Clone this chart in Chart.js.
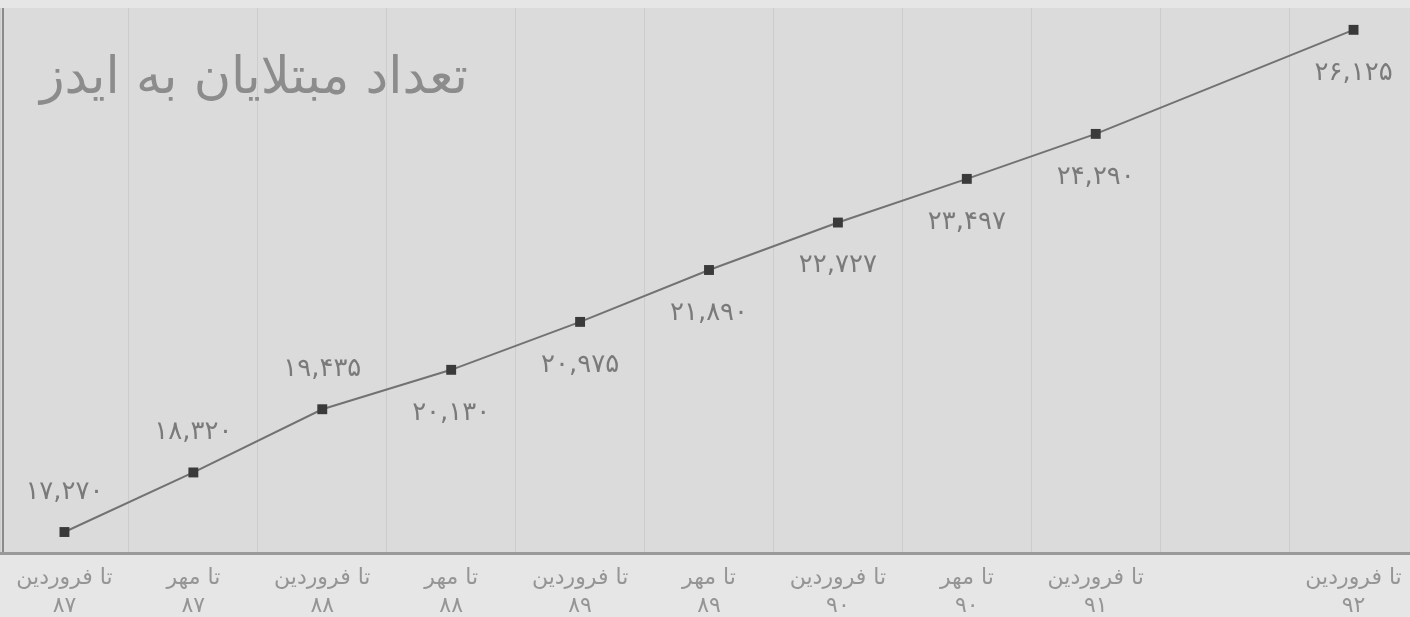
<!DOCTYPE html>
<html lang="fa">
<head>
  <meta charset="UTF-8" />
  <title>تعداد مبتلایان به ایدز</title>
  <script src="https://cdn.jsdelivr.net/npm/chart.js"></script>
  <style>
    body { margin: 0; background: #e6e6e6; overflow: hidden; }
    canvas { display: block; }
  </style>
</head>
<body>
  <canvas id="aidsChart" width="1418" height="617"></canvas>

  <script>
    // chart data
    const chartTitle = 'تعداد مبتلایان به ایدز';
    const periods = ['تا فروردین', 'تا مهر', 'تا فروردین', 'تا مهر', 'تا فروردین', 'تا مهر', 'تا فروردین', 'تا مهر', 'تا فروردین', '', 'تا فروردین'];
    const years = ['۸۷', '۸۷', '۸۸', '۸۸', '۸۹', '۸۹', '۹۰', '۹۰', '۹۱', '', '۹۲'];
    const patients = [17270, 18320, 19435, 20130, 20975, 21890, 22727, 23497, 24290, null, 26125];

    const labels = periods.map((p, i) => p ? [p, years[i]] : '');

    const faDigits = '۰۱۲۳۴۵۶۷۸۹';
    function toFa(n) {
      return n.toLocaleString('en-US').replace(/\d/g, d => faDigits[d]);
    }

    const fontFamily = '"DejaVu Sans", "Noto Sans", sans-serif';

    // backgrounds + title
    const backdrop = {
      id: 'backdrop',
      beforeDraw(chart) {
        const { ctx, chartArea: a } = chart;
        ctx.save();
        ctx.fillStyle = '#e6e6e6';
        ctx.fillRect(0, 0, chart.width, chart.height);
        ctx.fillStyle = '#dbdbdb';
        ctx.fillRect(a.left, a.top, a.right - a.left, a.bottom - a.top);
        // left frame line
        const lx = Math.max(a.left, 2) + 1;
        ctx.strokeStyle = '#8a8a8a';
        ctx.lineWidth = 2;
        ctx.beginPath();
        ctx.moveTo(lx, a.top);
        ctx.lineTo(lx, a.bottom);
        ctx.stroke();
        ctx.restore();
      },
      afterDraw(chart) {
        const { ctx, chartArea: a } = chart;
        ctx.save();
        ctx.font = '51px ' + fontFamily;
        ctx.fillStyle = '#8c8c8c';
        ctx.direction = 'rtl';
        ctx.textAlign = 'right';
        ctx.textBaseline = 'alphabetic';
        ctx.fillText(chartTitle, 468, a.top + 85);
        ctx.restore();
      }
    };

    // value labels next to each point
    const valueLabels = {
      id: 'valueLabels',
      afterDatasetsDraw(chart) {
        const { ctx } = chart;
        const meta = chart.getDatasetMeta(0);
        ctx.save();
        ctx.font = '26px ' + fontFamily;
        ctx.fillStyle = '#7a7a7a';
        ctx.textAlign = 'center';
        ctx.textBaseline = 'middle';
        meta.data.forEach((pt, i) => {
          const v = patients[i];
          if (v == null) return;
          const dy = i < 3 ? -40 : 43;
          ctx.fillText(toFa(v), pt.x, pt.y + dy);
        });
        ctx.restore();
      }
    };

    new Chart(document.getElementById('aidsChart'), {
      type: 'line',
      data: {
        labels: labels,
        datasets: [{
          data: patients,
          borderColor: '#727272',
          borderWidth: 2,
          pointStyle: 'rect',
          pointRadius: 7,
          pointBackgroundColor: '#3a3a3a',
          pointBorderColor: '#3a3a3a',
          pointBorderWidth: 0,
          tension: 0,
          spanGaps: true
        }]
      },
      options: {
        responsive: false,
        animation: false,
        devicePixelRatio: 1,
        layout: {
          autoPadding: false,
          padding: { top: 8, left: 0, right: 0, bottom: 0 }
        },
        plugins: {
          legend: { display: false },
          tooltip: { enabled: false }
        },
        scales: {
          x: {
            offset: true,
            afterFit(scale) {
              // fixed band for the two-line labels, no edge padding
              scale.height = 64;
              scale.paddingLeft = 0;
              scale.paddingRight = 0;
            },
            grid: {
              offset: true,
              color: 'rgba(150,150,150,0.22)',
              lineWidth: 1,
              drawTicks: false
            },
            border: { color: '#9a9a9a', width: 3 },
            ticks: {
              color: '#959595',
              font: { family: fontFamily, size: 22, lineHeight: 1.25 },
              padding: 12,
              maxRotation: 0,
              autoSkip: false
            }
          },
          y: {
            display: false,
            min: 16900,
            max: 26510
          }
        }
      },
      plugins: [backdrop, valueLabels]
    });
  </script>
</body>
</html>
